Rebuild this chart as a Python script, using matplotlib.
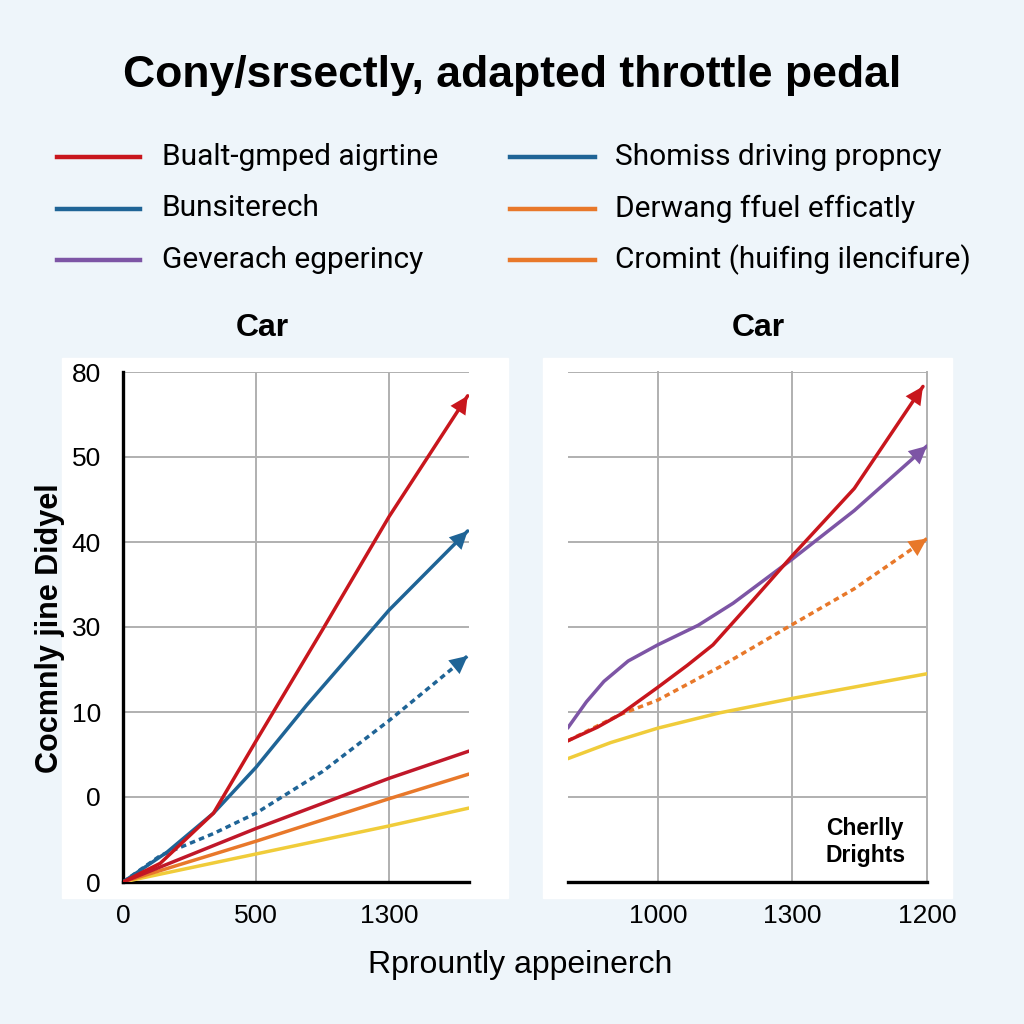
import numpy as np
import matplotlib.pyplot as plt
from matplotlib.patches import Rectangle
from matplotlib.lines import Line2D

plt.rcParams['font.family'] = ['Liberation Sans', 'DejaVu Sans']

# ---- data (axis positions are index units, tick labels as printed) ----
left_xticks = [0, 1, 2]
left_xlabels = ['0', '500', '1300']
right_xticks = [1, 2, 3]
right_xlabels = ['1000', '1300', '1200']
yticks = [0, 1, 2, 3, 4, 5, 6]
ylabels = ['0', '0', '10', '30', '40', '50', '80']

left_red_x = [0, 0.28, 0.68, 1.0, 1.5, 2.0, 2.59]
left_red_y = [0, 0.22, 0.81, 1.66, 2.97, 4.3, 5.72]
left_blue_x = [0, 0.33, 0.68, 1.0, 1.38, 2.0, 2.59]
left_blue_y = [0, 0.35, 0.81, 1.35, 2.08, 3.2, 4.13]
left_blue_dot_x = [0, 0.28, 0.68, 1.0, 1.5, 2.0, 2.59]
left_blue_dot_y = [0, 0.31, 0.57, 0.81, 1.3, 1.9, 2.66]
left_red_low_x = [0, 1.0, 2.0, 2.6]
left_red_low_y = [0, 0.63, 1.22, 1.54]
left_orange_x = [0, 1.0, 2.0, 2.6]
left_orange_y = [0, 0.48, 0.98, 1.27]
left_yellow_x = [0, 1.0, 2.0, 2.6]
left_yellow_y = [0, 0.33, 0.66, 0.87]

right_red_x = [0.33, 0.55, 0.72, 1.0, 1.22, 1.41, 1.71, 2.0, 2.46, 2.97]
right_red_y = [1.66, 1.82, 1.97, 2.29, 2.55, 2.79, 3.32, 3.84, 4.63, 5.83]
right_purple_x = [0.33, 0.47, 0.6, 0.78, 1.0, 1.3, 1.56, 2.0, 2.46, 3.0]
right_purple_y = [1.81, 2.12, 2.36, 2.6, 2.79, 3.02, 3.28, 3.80, 4.37, 5.13]
right_orange_x = [0.33, 0.72, 1.0, 1.46, 2.0, 2.46, 3.0]
right_orange_y = [1.66, 1.97, 2.14, 2.53, 3.03, 3.45, 4.04]
right_yellow_x = [0.33, 0.65, 1.0, 1.46, 2.0, 3.0]
right_yellow_y = [1.45, 1.64, 1.81, 1.99, 2.16, 2.45]

legend_labels = ['Bualt-gmped aigrtine', 'Bunsiterech', 'Geverach egperincy',
                 'Shomiss driving propncy', 'Derwang ffuel efficatly',
                 'Cromint (huifing ilencifure)']

RED = '#c8161d'
BLUE = '#1f6496'
PURPLE = '#7d55a5'
ORANGE = '#e8782a'
YELLOW = '#f0cc3a'
legend_colors = [RED, BLUE, PURPLE, BLUE, ORANGE, ORANGE]

fig = plt.figure(figsize=(10.24, 10.24), dpi=100)
fig.patch.set_facecolor('#eef5fa')

# white panels behind the plots
fig.add_artist(Rectangle((62/1024, 1-898/1024), 446/1024, 540/1024,
                         transform=fig.transFigure, color='white', zorder=0))
fig.add_artist(Rectangle((543/1024, 1-898/1024), 409/1024, 540/1024,
                         transform=fig.transFigure, color='white', zorder=0))

fig.text(0.5, 1-75/1024, 'Cony/srsectly, adapted throttle pedal',
         ha='center', va='center', fontsize=32, fontweight='bold')

# legend drawn by hand in two columns
for i, (lab, col) in enumerate(zip(legend_labels, legend_colors)):
    c, r = divmod(i, 3)
    x0 = [57, 510][c] / 1024
    x1 = [140, 595][c] / 1024
    y = 1 - (157 + 51.5*r) / 1024
    fig.add_artist(Line2D([x0, x1], [y, y], color=col, lw=3.2,
                          transform=fig.transFigure))
    fig.text([162, 615][c]/1024, y, lab, ha='left', va='center', fontsize=21.5,
             family=['Roboto', 'DejaVu Sans'])


def line_with_arrow(ax, x, y, color, dashed=False, arrow=True, lw=2.5):
    ls = (0, (1.6, 1.2)) if dashed else '-'
    ax.plot(x, y, color=color, lw=lw, ls=ls, solid_capstyle='round',
            solid_joinstyle='round', zorder=3)
    if arrow:
        ax.annotate('', xy=(x[-1], y[-1]), xytext=(x[-2], y[-2]),
                    arrowprops=dict(arrowstyle='-|>', color=color, lw=0,
                                    mutation_scale=32, shrinkA=0, shrinkB=0),
                    zorder=4)


def style(ax):
    ax.set_facecolor('none')
    ax.grid(True, color='#b0b0b0', lw=1.4)
    ax.set_axisbelow(True)
    for s in ['top', 'right', 'left']:
        ax.spines[s].set_visible(False)
    ax.spines['bottom'].set_linewidth(2.4)
    ax.set_ylim(0, 6)
    ax.set_yticks(yticks)


# ---- left plot ----
ax1 = fig.add_axes([123/1024, 1-882/1024, 346/1024, 510/1024])
style(ax1)
ax1.spines['left'].set_visible(True)
ax1.spines['left'].set_linewidth(2.4)
ax1.set_xlim(0, 2.6)
ax1.set_xticks(left_xticks)
ax1.set_xticklabels(left_xlabels)
ax1.set_yticklabels(ylabels)
ax1.tick_params(length=0, labelsize=19, pad=16)
ax1.tick_params(axis='y', pad=16)

line_with_arrow(ax1, left_yellow_x, left_yellow_y, YELLOW, arrow=False)
line_with_arrow(ax1, left_orange_x, left_orange_y, ORANGE, arrow=False)
line_with_arrow(ax1, left_red_low_x, left_red_low_y, '#c0182a', arrow=False)
line_with_arrow(ax1, left_blue_dot_x, left_blue_dot_y, BLUE, dashed=True)
line_with_arrow(ax1, left_blue_x, left_blue_y, BLUE)
line_with_arrow(ax1, left_red_x, left_red_y, RED)

# ---- right plot ----
ax2 = fig.add_axes([568/1024, 1-882/1024, 359/1024, 510/1024])
style(ax2)
ax2.set_xlim(0.333, 3)
ax2.set_xticks(right_xticks)
ax2.set_xticklabels(right_xlabels)
ax2.set_yticklabels([])
ax2.tick_params(length=0, labelsize=19, pad=16)
for ln in ax2.get_xgridlines():
    ln.set_clip_on(False)

line_with_arrow(ax2, right_yellow_x, right_yellow_y, YELLOW, arrow=False)
line_with_arrow(ax2, right_orange_x, right_orange_y, ORANGE, dashed=True)
line_with_arrow(ax2, right_purple_x, right_purple_y, PURPLE)
line_with_arrow(ax2, right_red_x, right_red_y, RED)

ax2.text(2.54, 0.47, 'Cherlly\nDrights', ha='center', va='center',
         fontsize=16.5, fontweight='bold', linespacing=1.25)

fig.text(262/1024, 1-328/1024, 'Car', ha='center', va='center', fontsize=23,
         fontweight='bold')
fig.text(758/1024, 1-328/1024, 'Car', ha='center', va='center', fontsize=23,
         fontweight='bold')
fig.text(50/1024, 1-628/1024, 'Cocmnly jine Didyel', ha='center', va='center',
         rotation=90, fontsize=22, fontweight='bold')
fig.text(520/1024, 1-965/1024, 'Rprountly appeinerch', ha='center',
         va='center', fontsize=23)

fig.savefig('out.png', dpi=100, facecolor=fig.get_facecolor())
